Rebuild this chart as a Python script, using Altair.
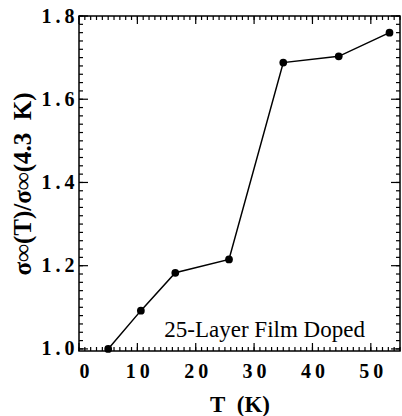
import altair as alt
import pandas as pd

# data
temps = [5.0, 10.6, 16.5, 25.7, 35.0, 44.5, 53.2]
ratio = [1.000, 1.092, 1.183, 1.215, 1.688, 1.703, 1.760]

x_major = [0, 10, 20, 30, 40, 50]
x_minor = list(range(0, 56))
y_major = [1.0, 1.2, 1.4, 1.6, 1.8]
y_minor = [round(1.0 + 0.02 * i, 2) for i in range(0, 41)]

note_text = ["25-Layer Film Doped"]
note_x = [31.8]
note_y = [1.028]

W, H = 321, 335
FONT = "Liberation Serif"

df = pd.DataFrame({"T": temps, "r": ratio})
xs = alt.Scale(domain=[0, 55], nice=False, zero=False)
ys = alt.Scale(domain=[0.995, 1.8], nice=False, zero=False)

spaced = "join(split(datum.label, ''), '\u2009')"

x_axis = alt.Axis(title="T\u00a0\u00a0(K)", values=x_major, labelExpr=spaced,
                  tickSize=0, labelPadding=10, titlePadding=12,
                  labelFontSize=20, titleFontSize=23)
y_axis = alt.Axis(title="σ∞(T)/σ∞(4.3\u00a0\u00a0K)", values=y_major,
                  labelExpr="join(split(format(datum.value, '.1f'), ''), '\u2009')",
                  tickSize=0, labelPadding=5, titlePadding=5,
                  labelFontSize=20, titleFontSize=25)

def X(f):
    return alt.X(f, scale=xs, axis=x_axis)

def Y(f):
    return alt.Y(f, scale=ys, axis=y_axis)

base = alt.Chart(df).encode(x=X("T:Q"), y=Y("r:Q"))
line = base.mark_line(color="black", strokeWidth=1.5)
pts = base.mark_circle(color="black", size=60, opacity=1)

xmaj = pd.DataFrame({"v": x_major})
xmin = pd.DataFrame({"v": x_minor})
ymaj = pd.DataFrame({"v": y_major})
ymin = pd.DataFrame({"v": y_minor})

def xticks(d, ln):
    b = alt.Chart(d).mark_rule(color="black", strokeWidth=1.2)
    bot = b.encode(x=X("v:Q"), y=alt.value(H), y2=alt.value(H - ln))
    top = b.encode(x=X("v:Q"), y=alt.value(0), y2=alt.value(ln))
    return bot + top

def yticks(d, ln):
    b = alt.Chart(d).mark_rule(color="black", strokeWidth=1.2)
    lft = b.encode(y=Y("v:Q"), x=alt.value(0), x2=alt.value(ln))
    rgt = b.encode(y=Y("v:Q"), x=alt.value(W), x2=alt.value(W - ln))
    return lft + rgt

note = alt.Chart(pd.DataFrame({"t": note_text, "x": note_x, "y": note_y})).mark_text(
    font=FONT, fontSize=23, color="black", align="center", baseline="alphabetic"
).encode(x=X("x:Q"), y=Y("y:Q"), text="t:N")

chart = alt.layer(
    line, pts, xticks(xmin, 4), xticks(xmaj, 8), yticks(ymin, 4), yticks(ymaj, 9), note
).properties(
    width=W, height=H,
    autosize=alt.AutoSizeParams(type="none"),
    padding={"left": 79, "top": 16, "right": 2, "bottom": 65},
    background="white",
).configure_view(
    stroke="black", strokeWidth=1.5
).configure_axis(
    labelFont=FONT, titleFont=FONT, labelFontWeight="bold", titleFontWeight="bold",
    labelColor="black", titleColor="black", grid=False, domain=False,
)

chart.save("out.html", embed_options={"renderer": "svg", "actions": False})
